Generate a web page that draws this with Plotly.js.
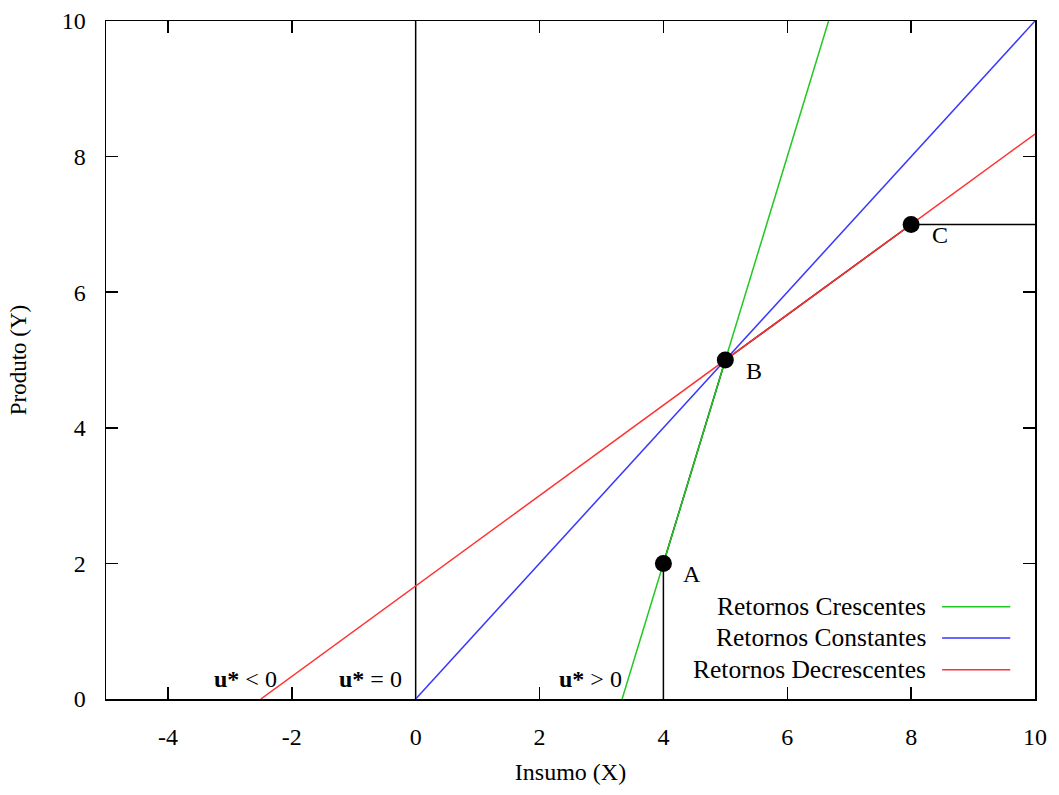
<!DOCTYPE html>
<html>
<head>
<meta charset="utf-8">
<script src="https://cdn.plot.ly/plotly-3.0.1.min.js"></script>
<style>html,body{margin:0;padding:0;background:#fff;}#chart{width:1059px;height:795px;}</style>
</head>
<body>
<div id="chart"></div>
<script>
// Data
const seriesNames = ["Retornos Crescentes", "Retornos Constantes", "Retornos Decrescentes"];
const crescX = [3.3333, 6.6667];
const crescY = [0, 10];
const constX = [0, 10];
const constY = [0, 10];
const decrescX = [-2.5, 10];
const decrescY = [0, 8.3333];
const pointNames = ["A", "B", "C"];
const pointX = [4, 5, 8];
const pointY = [2, 5, 7];
const frontierX = [4, 4, 5, 8, 10];
const frontierY = [0, 2, 5, 7, 7];
const axisLineX = [0, 0];
const axisLineY = [0, 10];
const regionLabels = ["<b>u*</b> < 0", "<b>u*</b> = 0", "<b>u*</b> > 0"];
const regionLabelX = [-2.75, -0.73, 2.82];
const xTicks = [-4, -2, 0, 2, 4, 6, 8, 10];
const yTicks = [0, 2, 4, 6, 8, 10];

const colors = ["#22c822", "#3636ff", "#ff3232"];
const font = "Liberation Serif, Times New Roman, serif";
const fs = 24;

const traces = [
  {x: axisLineX, y: axisLineY, mode: "lines", line: {color: "#000", width: 1.5}, showlegend: false, hoverinfo: "skip"},
  {x: frontierX, y: frontierY, mode: "lines", line: {color: "#000", width: 1.5}, showlegend: false, hoverinfo: "skip"},
  {x: crescX, y: crescY, mode: "lines", name: seriesNames[0], line: {color: colors[0], width: 1.5}, showlegend: false},
  {x: constX, y: constY, mode: "lines", name: seriesNames[1], line: {color: colors[1], width: 1.5}, showlegend: false},
  {x: decrescX, y: decrescY, mode: "lines", name: seriesNames[2], line: {color: colors[2], width: 1.5}, showlegend: false},
  {x: pointX, y: pointY, mode: "markers", marker: {color: "#000", size: 17}, showlegend: false}
];

const annotations = [];
const shapes = [];
// point labels
pointNames.forEach((n, i) => {
  annotations.push({x: pointX[i] + 0.46, y: pointY[i] - 0.16, xref: "x", yref: "y", text: n, showarrow: false,
    font: {family: font, size: fs, color: "#000"}});
});
// region labels
regionLabels.forEach((t, i) => {
  annotations.push({x: regionLabelX[i], y: 0.29, xref: "x", yref: "y", text: t, showarrow: false,
    font: {family: font, size: fs, color: "#000"}});
});
// legend (text right-aligned, sample line on the right)
const legY = [1.36, 0.9, 0.43];
seriesNames.forEach((n, i) => {
  annotations.push({x: 8.28, y: legY[i], xref: "x", yref: "y", text: n, showarrow: false, xanchor: "right",
    font: {family: font, size: 25.5, color: "#000"}});
  shapes.push({type: "line", xref: "x", yref: "y", x0: 8.5, x1: 9.6, y0: legY[i], y1: legY[i],
    line: {color: colors[i], width: 1.5}});
});

const layout = {
  width: 1059, height: 795,
  margin: {l: 106, r: 24, t: 21, b: 96},
  paper_bgcolor: "#fff", plot_bgcolor: "#fff",
  font: {family: font, size: fs, color: "#000"},
  showlegend: false,
  xaxis: {
    range: [-5, 10], tickvals: xTicks, ticktext: xTicks.map(String),
    ticks: "inside", ticklen: 12, tickwidth: 1.5, tickcolor: "#000",
    showline: true, linecolor: "#000", linewidth: 1.5, mirror: "ticks",
    showgrid: false, zeroline: false, ticklabelstandoff: 16,
    title: {text: "Insumo (X)", font: {family: font, size: fs}, standoff: 14}
  },
  yaxis: {
    range: [0, 10], tickvals: yTicks, ticktext: yTicks.map(String),
    ticks: "inside", ticklen: 12, tickwidth: 1.5, tickcolor: "#000",
    showline: true, linecolor: "#000", linewidth: 1.5, mirror: "ticks",
    showgrid: false, zeroline: false, ticklabelstandoff: 14,
    title: {text: "Produto (Y)", font: {family: font, size: 23}, standoff: 28}
  },
  annotations: annotations,
  shapes: shapes
};

Plotly.newPlot("chart", traces, layout, {displayModeBar: false, staticPlot: true});
</script>
</body>
</html>
